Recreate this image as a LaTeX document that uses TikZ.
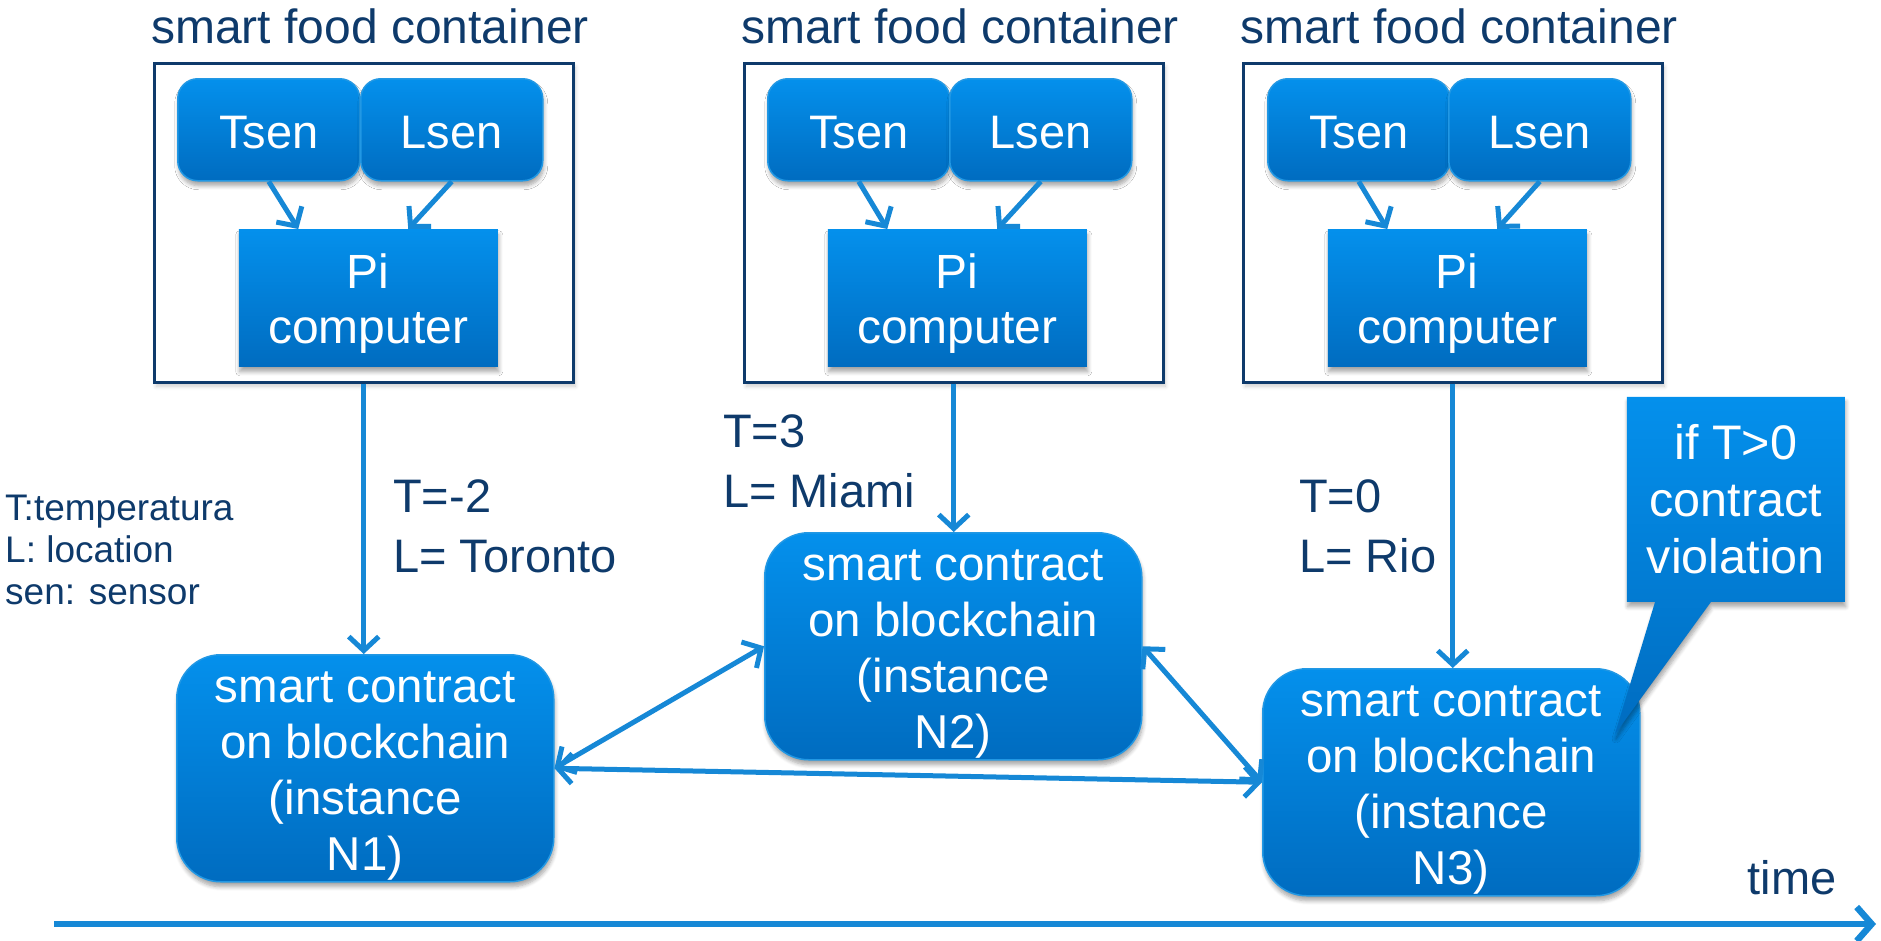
\documentclass[tikz,border=0pt]{standalone}
\usepackage{fontspec}
\setmainfont{Liberation Sans}
\usetikzlibrary{arrows.meta,shadows,shadows.blur,shapes.callouts}

\definecolor{navy}{RGB}{14,58,107}
\definecolor{btop}{RGB}{4,144,236}
\definecolor{bbot}{RGB}{0,108,192}
\definecolor{bedge}{RGB}{34,152,228}
\definecolor{arrowblue}{RGB}{22,136,214}

% a strut that pushes the first line of a box label down a little
\newcommand{\toppad}{\rule{0pt}{46pt}}

\tikzset{
  softshadow/.style={blur shadow={shadow blur steps=6, shadow xshift=1pt,
      shadow yshift=-5pt, shadow blur radius=4pt, shadow opacity=35}},
  bluefill/.style={top color=btop, bottom color=bbot, draw=bedge,
      line width=1.5pt, text=white, inner sep=0pt, align=center, softshadow},
  title/.style={text=navy, font=\fontsize{48}{56}\selectfont, inner sep=0pt,
      anchor=base west},
  container/.style={draw=navy, line width=2.5pt, fill=white, inner sep=0pt,
      anchor=north west, minimum width=419pt, minimum height=319pt,
      blur shadow={shadow blur steps=5, shadow xshift=2pt, shadow yshift=-4pt,
      shadow blur radius=4pt, shadow opacity=20}},
  sensor/.style={bluefill, rounded corners=20pt, anchor=north west,
      minimum width=182pt, minimum height=102pt,
      font=\fontsize{47}{54}\selectfont},
  computer/.style={bluefill, draw=none, anchor=north west,
      minimum width=259pt, minimum height=137pt,
      font=\fontsize{48}{55}\selectfont},
  contract/.style={bluefill, rounded corners=44pt, anchor=north west,
      minimum width=377pt, minimum height=227pt,
      font=\fontsize{47.5}{56}\selectfont},
  warn/.style={bluefill, draw=none, rectangle callout, anchor=north west,
      minimum width=218pt, minimum height=205pt, callout pointer width=56pt,
      font=\fontsize{48.5}{57}\selectfont},
  lbl/.style={text=navy, font=\fontsize{47}{60}\selectfont, inner sep=0pt,
      align=left},
  keytext/.style={text=navy, font=\fontsize{37}{42}\selectfont, inner sep=0pt,
      align=left},
  flow/.style={draw=arrowblue, line width=5pt,
      -{Straight Barb[length=14pt,width=30pt]}},
  both/.style={draw=arrowblue, line width=5pt,
      {Straight Barb[length=14pt,width=30pt]}-{Straight Barb[length=14pt,width=30pt]}},
  timeline/.style={draw=arrowblue, line width=6.5pt,
      -{Straight Barb[length=15pt,width=34pt]}},
}

\begin{document}
\begin{tikzpicture}[x=1pt,y=-1pt]
\useasboundingbox (0,0) rectangle (1881,940);

% container titles
\node[title] (h1) at (151,43) {smart food container};
\node[title] (h2) at (741,43) {smart food container};
\node[title] (h3) at (1240,43) {smart food container};

% the three smart food containers
\node[container] (c1) at (153,62) {};
\node[container] (c2) at (743,62) {};
\node[container] (c3) at (1242,62) {};

% sensors and Pi computers
\node[sensor] (t1) at (177,78) {\rule{0pt}{38pt}Tsen};
\node[sensor] (l1) at (360,78) {\rule{0pt}{38pt}Lsen};
\node[computer] (p1) at (238,229) {\toppad Pi\\computer};

\node[sensor] (t2) at (767,78) {\rule{0pt}{38pt}Tsen};
\node[sensor] (l2) at (949,78) {\rule{0pt}{38pt}Lsen};
\node[computer] (p2) at (827,229) {\toppad Pi\\computer};

\node[sensor] (t3) at (1267,78) {\rule{0pt}{38pt}Tsen};
\node[sensor] (l3) at (1448,78) {\rule{0pt}{38pt}Lsen};
\node[computer] (p3) at (1327,229) {\toppad Pi\\computer};

\foreach \i in {1,2,3}{
  \draw[flow] (t\i.south) -- ([xshift=-70pt]p\i.north);
  \draw[flow] (l\i.south) -- ([xshift=40pt]p\i.north);
}

% smart contract instances
\node[contract] (n1) at (176,654) {\toppad smart contract\\on blockchain\\(instance\\N1)};
\node[contract] (n2) at (764,532) {\toppad smart contract\\on blockchain\\(instance\\N2)};
\node[contract] (n3) at (1262,668) {\toppad smart contract\\on blockchain\\(instance\\N3)};

% readings sent to the blockchain
\draw[flow] (c1.south) -- (c1.south |- n1.north);
\draw[flow] (c2.south) -- (c2.south |- n2.north);
\draw[flow] (c3.south) -- (c3.south |- n3.north);

\node[lbl, anchor=west] (v1) at (393,526) {T=-2\\L= Toronto};
\node[lbl, anchor=west] (v2) at (723,461) {T=3\\L= Miami};
\node[lbl, anchor=west] (v3) at (1299,526) {T=0\\L= Rio};

% links between the instances
\draw[both] (n1.east) -- (n2.west);
\draw[both] (n1.east) -- (n3.west);
\draw[both] (n2.east) -- (n3.west);

% violation rule
\node[warn, callout absolute pointer={(1615,734)}] (cv) at (1626,396)
  {if T>0\\contract\\violation};

% legend
\node[keytext, anchor=west] (key) at (5,550) {T:temperatura\\L: location\\sen: sensor};

% time axis
\coordinate (ts) at (54,924);
\coordinate (te) at (1876,924);
\draw[timeline] (ts) -- (te);
\node[lbl] (tl) at (1792,878) {time};
\end{tikzpicture}
\end{document}
